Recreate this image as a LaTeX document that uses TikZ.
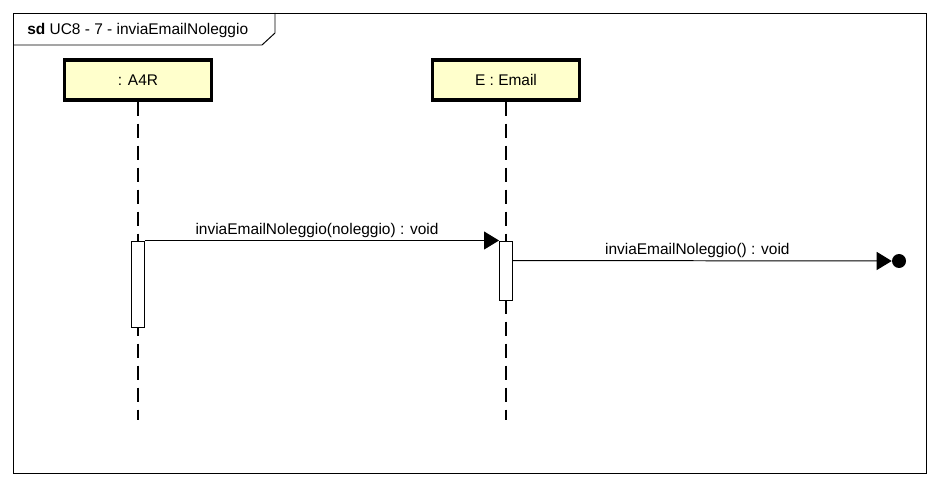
\documentclass[tikz,border=0pt]{standalone}
\usepackage{fontspec}
\setmainfont{Liberation Sans}
\usetikzlibrary{arrows.meta}
\definecolor{headyellow}{RGB}{255,255,204}
\begin{document}
\begin{tikzpicture}[font=\fontsize{11}{13}\selectfont,
    lifehead/.style={draw, line width=2.2pt, fill=headyellow, minimum width=3.675cm, minimum height=1cm},
    lifeline/.style={line width=0.8pt, dash pattern=on 0.35cm off 0.2cm},
    activation/.style={draw, fill=white, line width=0.7pt, minimum width=0.325cm, inner sep=0pt},
    msg/.style={line width=0.7pt, -{Triangle[length=3.75mm, width=4.5mm]}},
    msglabel/.style={midway, above, inner sep=1.5pt, xshift=-0.125cm}]
    \useasboundingbox (0,0) rectangle (23.45,12.15);

    % Frame with the sd tab
    \draw[line width=0.7pt] (0.325,0.325) rectangle (23.15,11.825);
    \draw[line width=0.7pt] (0.325,11.025) -- (6.55,11.025) -- (6.875,11.325) -- (6.875,11.825);
    \node[anchor=base west, inner sep=0pt] (title) at (0.675,11.275) {\textbf{sd} UC8 - 7 - inviaEmailNoleggio};

    % Lifelines
    \node[lifehead] (a4r) at (3.45,10.15) {: A4R};
    \node[lifehead] (email) at (12.65,10.15) {E : Email};
    \coordinate (a4rEnd) at (3.45,1.65);
    \coordinate (emailEnd) at (12.65,1.65);
    \draw[lifeline] (a4r) -- (a4rEnd);
    \draw[lifeline] (email) -- (emailEnd);

    % Activations
    \node[activation, minimum height=2.15cm] (actA4r) at (3.45,5.05) {};
    \node[activation, minimum height=1.475cm] (actEmail) at (12.65,5.3875) {};

    % Messages
    \draw[msg] (actA4r.north east) -- (actEmail.north west)
        node[msglabel] {inviaEmailNoleggio(noleggio) : void};
    \node[circle, fill, minimum size=0.35cm, inner sep=0pt] (lost) at (22.475,5.625) {};
    \draw[msg] ([yshift=-0.5cm]actEmail.north east) -- (lost.west)
        node[msglabel] {inviaEmailNoleggio() : void};
\end{tikzpicture}
\end{document}
